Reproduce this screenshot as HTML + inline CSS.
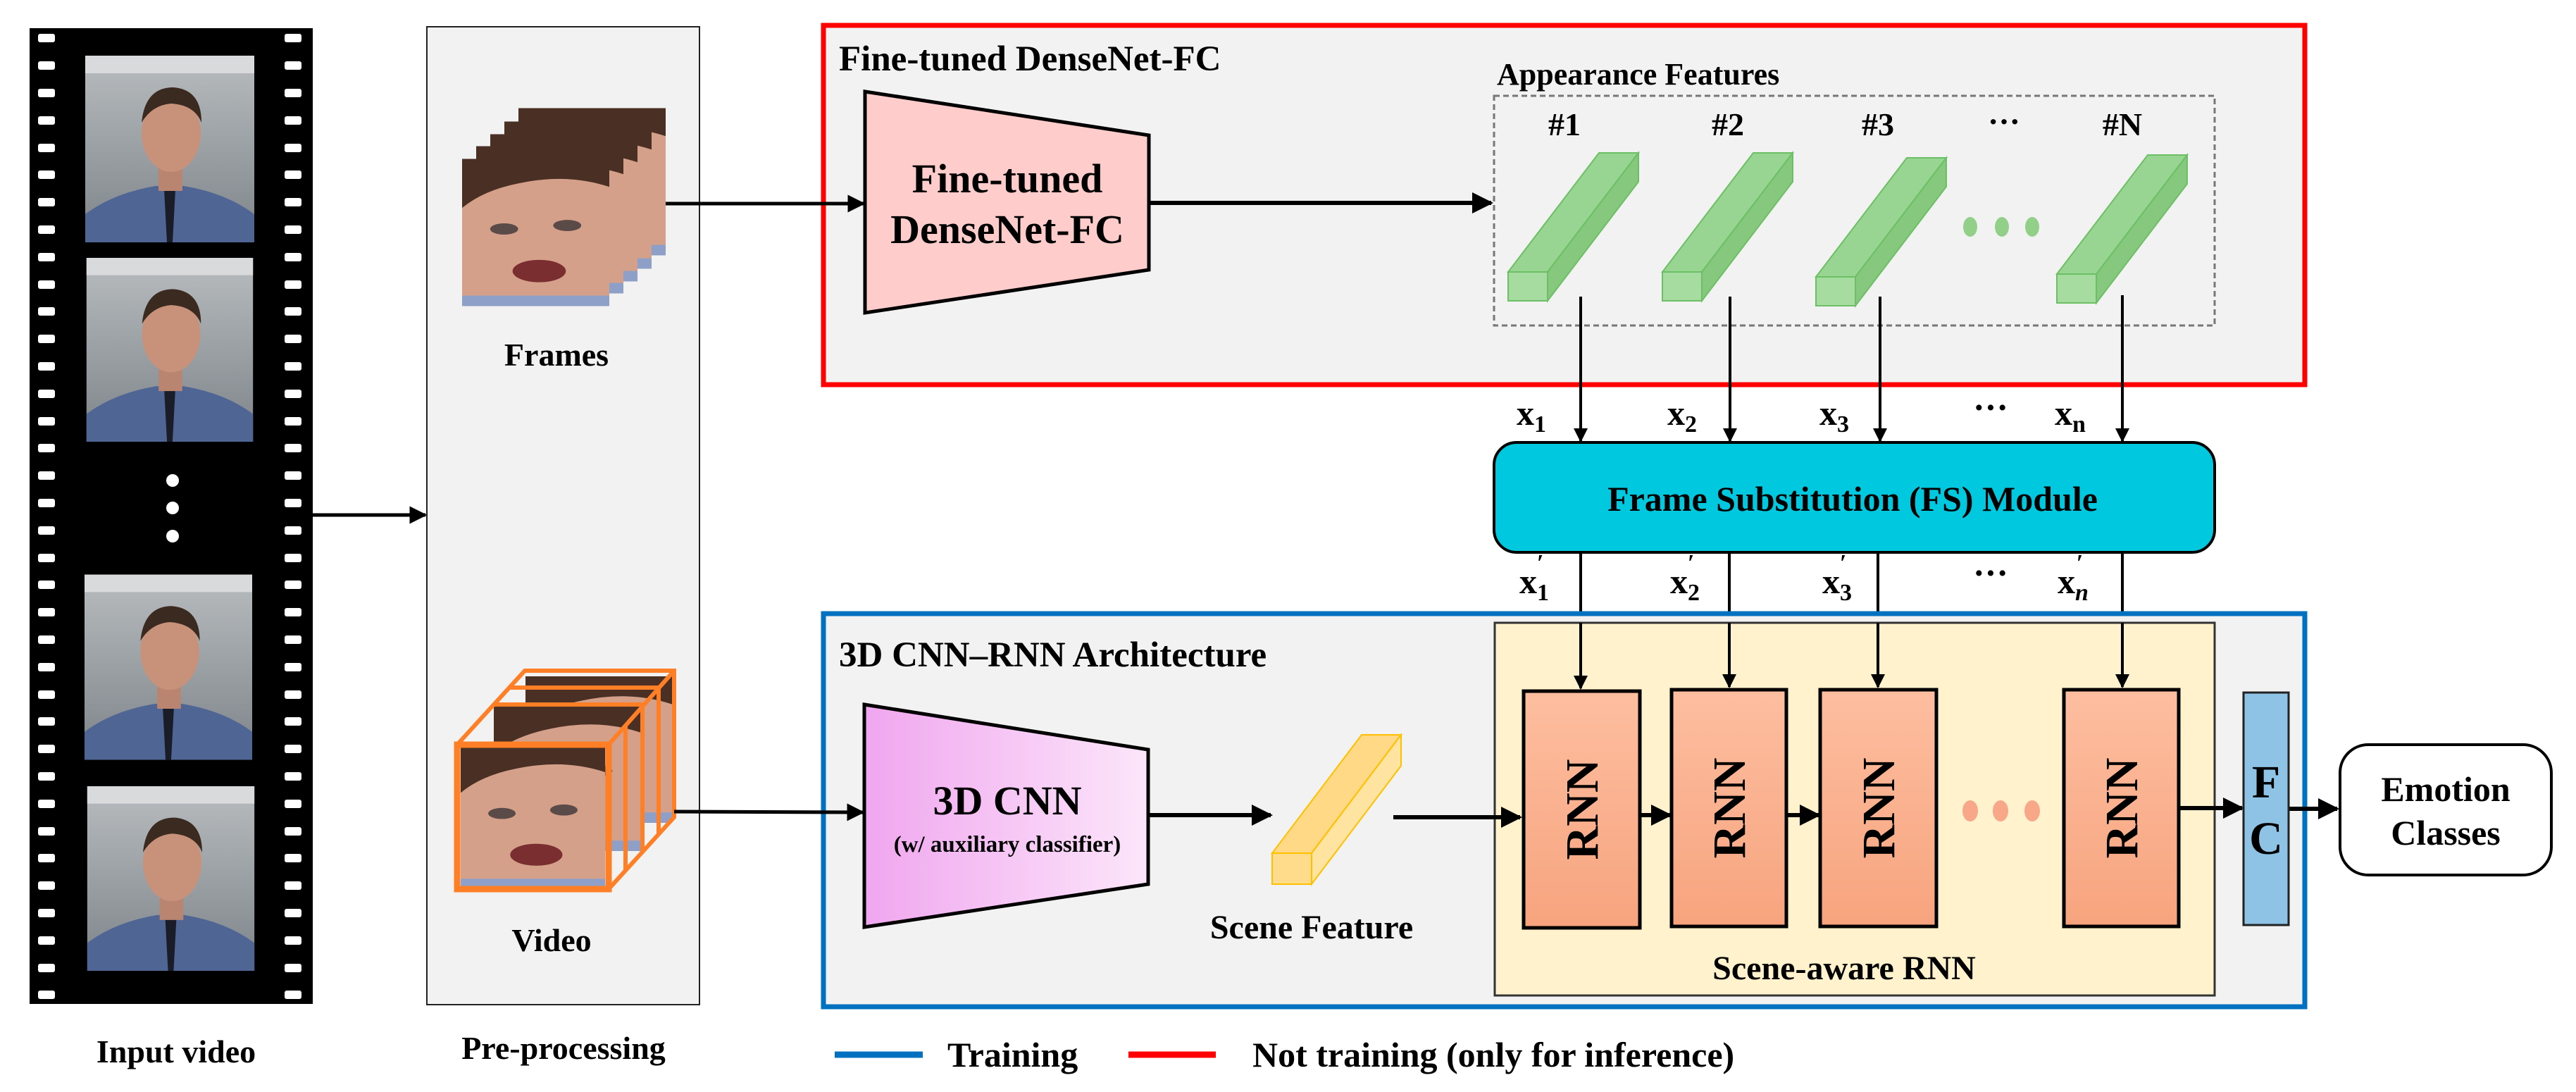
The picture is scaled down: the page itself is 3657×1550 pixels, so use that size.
<!DOCTYPE html>
<html><head><meta charset="utf-8"><style>
html,body{margin:0;padding:0;background:#fff;}
svg{display:block;}
text{font-family:"Liberation Serif",serif;font-weight:bold;fill:#000;}
</style></head><body>
<svg width="3657" height="1550" viewBox="0 0 3657 1550" xmlns="http://www.w3.org/2000/svg">
<defs>
<marker id="ah" viewBox="0 0 10 10" refX="9" refY="5" markerWidth="5" markerHeight="5" orient="auto" markerUnits="strokeWidth"><path d="M0,0 L10,5 L0,10 z" fill="#000"/></marker>
<linearGradient id="rnn" x1="0" y1="0" x2="0" y2="1"><stop offset="0" stop-color="#fdbea0"/><stop offset="1" stop-color="#f7a47e"/></linearGradient>
<linearGradient id="pur" x1="0" y1="0" x2="1" y2="0"><stop offset="0" stop-color="#f0a6ef"/><stop offset="1" stop-color="#fce6fa"/></linearGradient>
<linearGradient id="bg" x1="0" y1="0" x2="0" y2="1"><stop offset="0" stop-color="#b8bcbf"/><stop offset="1" stop-color="#7d8489"/></linearGradient>
<symbol id="ff" viewBox="0 0 240 265">
<rect width="240" height="265" fill="url(#bg)"/>
<rect x="0" y="0" width="240" height="25" fill="#d8dadb"/>
<path d="M0,265 L0,225 Q40,195 100,185 L140,185 Q200,195 240,225 L240,265 Z" fill="#4f6593"/>
<path d="M112,190 L128,190 L124,265 L116,265 Z" fill="#1a1d28"/>
<rect x="104" y="150" width="34" height="42" fill="#b98570"/>
<ellipse cx="122" cy="110" rx="42" ry="55" fill="#c8927a"/>
<path d="M80,95 Q85,45 125,45 Q165,48 165,95 Q155,70 122,68 Q95,70 80,95 Z" fill="#3b2a20"/>
</symbol>
<symbol id="fc" viewBox="0 0 210 210">
<rect width="210" height="210" fill="#d4a08a"/>
<path d="M0,0 L210,0 L210,40 Q150,20 80,35 Q30,45 0,70 Z" fill="#4a3024"/>
<ellipse cx="60" cy="100" rx="20" ry="8" fill="#5a4a48"/>
<ellipse cx="150" cy="95" rx="20" ry="8" fill="#5a4a48"/>
<ellipse cx="110" cy="160" rx="38" ry="16" fill="#7a2e30"/>
<rect x="0" y="195" width="210" height="15" fill="#8ea0c8"/>
</symbol>
</defs>

<!-- film strip -->
<rect x="42" y="40" width="402" height="1385" fill="#000"/>
<g fill="#fff">
<rect x="54" y="48" width="24" height="12" rx="3"/><rect x="404" y="48" width="24" height="12" rx="3"/>
</g>
<g id="holes" fill="#fff"></g>
<use href="#ff" x="120" y="79" width="242" height="265"/>
<use href="#ff" x="120" y="366" width="242" height="261"/>
<use href="#ff" x="120" y="812" width="238" height="270"/>
<use href="#ff" x="123" y="1116" width="239" height="262"/>
<circle cx="245" cy="682" r="9" fill="#fff"/><circle cx="245" cy="721" r="9" fill="#fff"/><circle cx="245" cy="761" r="9" fill="#fff"/>
<line x1="444" y1="731" x2="604" y2="731" stroke="#000" stroke-width="5" marker-end="url(#ah)"/>

<!-- preprocessing -->
<rect x="606" y="38" width="387" height="1388" fill="#f2f2f2" stroke="#222" stroke-width="2"/>
<use href="#fc" x="736" y="153" width="209" height="210"/>
<use href="#fc" x="716" y="172" width="209" height="210"/>
<use href="#fc" x="696" y="190" width="209" height="210"/>
<use href="#fc" x="676" y="207" width="209" height="210"/>
<use href="#fc" x="656" y="225" width="209" height="210"/>
<text x="790" y="519" font-size="46" text-anchor="middle">Frames</text>
<!-- video cube -->
<use href="#fc" x="745" y="960" width="210" height="208"/>
<use href="#fc" x="700" y="1000" width="210" height="208"/>
<use href="#fc" x="649" y="1057" width="215" height="205"/>
<g fill="none" stroke="#ff7f27" stroke-width="6">
<rect x="649" y="1057" width="215" height="205" stroke-width="9"/>
<polyline points="649,1057 745,952 957,952 957,1160 864,1262"/>
<line x1="864" y1="1057" x2="957" y2="952"/>
<line x1="700" y1="1000" x2="912" y2="1000"/><line x1="912" y1="1000" x2="912" y2="1208"/>
<line x1="725" y1="976" x2="935" y2="976"/><line x1="935" y1="976" x2="935" y2="1185"/>
<line x1="888" y1="1030" x2="888" y2="1235"/>
</g>
<text x="783" y="1350" font-size="46" text-anchor="middle">Video</text>
<text x="250" y="1508" font-size="46" text-anchor="middle">Input video</text>
<text x="800" y="1503" font-size="46" text-anchor="middle">Pre-processing</text>

<!-- red box -->
<rect x="1169" y="36" width="2103" height="510" fill="#f2f2f2" stroke="#ff0000" stroke-width="7"/>
<text x="1191" y="100" font-size="51">Fine-tuned DenseNet-FC</text>
<line x1="945" y1="289" x2="1226" y2="289" stroke="#000" stroke-width="5" marker-end="url(#ah)"/>
<polygon points="1228,130 1631,192 1631,383 1228,444" fill="#ffcccc" stroke="#000" stroke-width="5"/>
<text x="1430" y="273" font-size="58" text-anchor="middle">Fine-tuned</text>
<text x="1430" y="345" font-size="58" text-anchor="middle">DenseNet-FC</text>
<line x1="1631" y1="288" x2="2117" y2="288" stroke="#000" stroke-width="6" marker-end="url(#ah)"/>
<text x="2125" y="120" font-size="44">Appearance Features</text>
<rect x="2121" y="136" width="1023" height="326" fill="none" stroke="#777" stroke-width="3" stroke-dasharray="8,5"/>
<g font-size="46" text-anchor="middle">
<text x="2221" y="192">#1</text><text x="2453" y="192">#2</text><text x="2666" y="192">#3</text><text x="2845" y="188">···</text><text x="3013" y="192">#N</text>
</g>
<g stroke="#6cbf64" stroke-width="2">
<g transform="translate(2141,0)"><polygon points="0,386 56,386 185,217 129,217" fill="#98d592"/><polygon points="56,386 56,427 185,258 185,217" fill="#86c97e"/><rect x="0" y="386" width="56" height="41" fill="#a6dca0"/></g>
<g transform="translate(2360,0)"><polygon points="0,386 56,386 185,217 129,217" fill="#98d592"/><polygon points="56,386 56,427 185,258 185,217" fill="#86c97e"/><rect x="0" y="386" width="56" height="41" fill="#a6dca0"/></g>
<g transform="translate(2578,7)"><polygon points="0,386 56,386 185,217 129,217" fill="#98d592"/><polygon points="56,386 56,427 185,258 185,217" fill="#86c97e"/><rect x="0" y="386" width="56" height="41" fill="#a6dca0"/></g>
<g transform="translate(2920,3)"><polygon points="0,386 56,386 185,217 129,217" fill="#98d592"/><polygon points="56,386 56,427 185,258 185,217" fill="#86c97e"/><rect x="0" y="386" width="56" height="41" fill="#a6dca0"/></g>
</g>
<g fill="#92d08a"><ellipse cx="2797" cy="322" rx="10" ry="14"/><ellipse cx="2842" cy="322" rx="10" ry="14"/><ellipse cx="2885" cy="322" rx="10" ry="14"/></g>
<g stroke="#000" stroke-width="4" marker-end="url(#ah)">
<line x1="2244" y1="421" x2="2244" y2="626"/><line x1="2456" y1="421" x2="2456" y2="626"/><line x1="2669" y1="421" x2="2669" y2="626"/><line x1="3013" y1="419" x2="3013" y2="626"/>
</g>
<g font-size="50">
<text x="2153" y="603">x<tspan font-size="34" dy="10">1</tspan></text>
<text x="2367" y="603">x<tspan font-size="34" dy="10">2</tspan></text>
<text x="2583" y="603">x<tspan font-size="34" dy="10">3</tspan></text>
<text x="2801" y="595">···</text>
<text x="2917" y="603">x<tspan font-size="34" dy="10">n</tspan></text>
</g>
<rect x="2121" y="628" width="1023" height="156" rx="32" fill="#00c8de" stroke="#000" stroke-width="4"/>
<text x="2630" y="725" font-size="50" text-anchor="middle">Frame Substitution (FS) Module</text>
<g stroke="#000" stroke-width="4" marker-end="url(#ah)">
<line x1="2244" y1="784" x2="2244" y2="977"/><line x1="2455" y1="784" x2="2455" y2="975"/><line x1="2666" y1="784" x2="2666" y2="975"/><line x1="3013" y1="784" x2="3013" y2="975"/>
</g>
<g font-size="50">
<text x="2157" y="842">x<tspan font-size="34" dy="10">1</tspan><tspan font-size="34" dx="-17" dy="-42">′</tspan></text>
<text x="2371" y="842">x<tspan font-size="34" dy="10">2</tspan><tspan font-size="34" dx="-17" dy="-42">′</tspan></text>
<text x="2587" y="842">x<tspan font-size="34" dy="10">3</tspan><tspan font-size="34" dx="-17" dy="-42">′</tspan></text>
<text x="2801" y="830">···</text>
<text x="2921" y="842">x<tspan font-size="34" dy="10" font-style="italic">n</tspan><tspan font-size="34" dx="-17" dy="-42">′</tspan></text>
</g>

<!-- blue box -->
<rect x="1169" y="871" width="2103" height="558" fill="#f2f2f2" stroke="#0070c0" stroke-width="7"/>
<text x="1191" y="946" font-size="51">3D CNN–RNN Architecture</text>
<rect x="2122" y="884" width="1022" height="529" fill="#fff2cc" stroke="#333" stroke-width="3"/>
<line x1="2244" y1="884" x2="2244" y2="977" stroke="#000" stroke-width="4" marker-end="url(#ah)"/>
<line x1="2455" y1="884" x2="2455" y2="975" stroke="#000" stroke-width="4" marker-end="url(#ah)"/>
<line x1="2666" y1="884" x2="2666" y2="975" stroke="#000" stroke-width="4" marker-end="url(#ah)"/>
<line x1="3013" y1="884" x2="3013" y2="975" stroke="#000" stroke-width="4" marker-end="url(#ah)"/>
<line x1="957" y1="1152" x2="1225" y2="1153" stroke="#000" stroke-width="5" marker-end="url(#ah)"/>
<polygon points="1227,1000 1630,1064 1630,1255 1227,1316" fill="url(#pur)" stroke="#000" stroke-width="5"/>
<text x="1430" y="1156" font-size="58" text-anchor="middle">3D CNN</text>
<text x="1430" y="1209" font-size="33" text-anchor="middle">(w/ auxiliary classifier)</text>
<line x1="1630" y1="1157" x2="1804" y2="1157" stroke="#000" stroke-width="6" marker-end="url(#ah)"/>
<g stroke="#ffc000" stroke-width="2">
<polygon points="1806,1211 1862,1211 1989,1043 1933,1043" fill="#ffd985"/>
<polygon points="1862,1211 1862,1255 1989,1087 1989,1043" fill="#ffe3a0"/>
<rect x="1806" y="1211" width="56" height="44" fill="#ffdc8c"/>
</g>
<text x="1862" y="1332" font-size="48" text-anchor="middle">Scene Feature</text>
<line x1="1978" y1="1160" x2="2158" y2="1160" stroke="#000" stroke-width="6" marker-end="url(#ah)"/>
<g stroke="#000" stroke-width="5" fill="url(#rnn)">
<rect x="2163" y="981" width="165" height="336"/>
<rect x="2373" y="979" width="163" height="336"/>
<rect x="2584" y="979" width="165" height="336"/>
<rect x="2930" y="979" width="163" height="336"/>
</g>
<g font-size="66" text-anchor="middle">
<text transform="translate(2268,1149) rotate(-90)">RNN</text>
<text transform="translate(2477,1147) rotate(-90)">RNN</text>
<text transform="translate(2689,1147) rotate(-90)">RNN</text>
<text transform="translate(3034,1147) rotate(-90)">RNN</text>
</g>
<g stroke="#000" stroke-width="6" marker-end="url(#ah)">
<line x1="2328" y1="1157" x2="2371" y2="1157"/><line x1="2536" y1="1157" x2="2582" y2="1157"/>
<line x1="3093" y1="1147" x2="3183" y2="1147"/><line x1="3249" y1="1148" x2="3318" y2="1148"/>
</g>
<g fill="#f8a888"><ellipse cx="2797" cy="1151" rx="11" ry="15"/><ellipse cx="2840" cy="1151" rx="11" ry="15"/><ellipse cx="2885" cy="1151" rx="11" ry="15"/></g>
<rect x="3185" y="983" width="64" height="330" fill="#8fc3e6" stroke="#222" stroke-width="3"/>
<text x="3217" y="1132" font-size="66" text-anchor="middle">F</text>
<text x="3217" y="1212" font-size="66" text-anchor="middle">C</text>
<text x="2618" y="1390" font-size="48" text-anchor="middle">Scene-aware RNN</text>
<rect x="3322" y="1057" width="300" height="185" rx="40" fill="#fff" stroke="#000" stroke-width="4"/>
<text x="3472" y="1137" font-size="50" text-anchor="middle">Emotion</text>
<text x="3472" y="1199" font-size="50" text-anchor="middle">Classes</text>

<!-- legend -->
<line x1="1185" y1="1497" x2="1310" y2="1497" stroke="#0070c0" stroke-width="9"/>
<text x="1345" y="1514" font-size="50">Training</text>
<line x1="1602" y1="1497" x2="1726" y2="1497" stroke="#ff0000" stroke-width="9"/>
<text x="1778" y="1514" font-size="50">Not training (only for inference)</text>

<g fill="#fff">
<rect x="54" y="87" width="24" height="12" rx="3"/><rect x="404" y="87" width="24" height="12" rx="3"/>
<rect x="54" y="126" width="24" height="12" rx="3"/><rect x="404" y="126" width="24" height="12" rx="3"/>
<rect x="54" y="165" width="24" height="12" rx="3"/><rect x="404" y="165" width="24" height="12" rx="3"/>
<rect x="54" y="204" width="24" height="12" rx="3"/><rect x="404" y="204" width="24" height="12" rx="3"/>
<rect x="54" y="242" width="24" height="12" rx="3"/><rect x="404" y="242" width="24" height="12" rx="3"/>
<rect x="54" y="281" width="24" height="12" rx="3"/><rect x="404" y="281" width="24" height="12" rx="3"/>
<rect x="54" y="320" width="24" height="12" rx="3"/><rect x="404" y="320" width="24" height="12" rx="3"/>
<rect x="54" y="359" width="24" height="12" rx="3"/><rect x="404" y="359" width="24" height="12" rx="3"/>
<rect x="54" y="398" width="24" height="12" rx="3"/><rect x="404" y="398" width="24" height="12" rx="3"/>
<rect x="54" y="436" width="24" height="12" rx="3"/><rect x="404" y="436" width="24" height="12" rx="3"/>
<rect x="54" y="475" width="24" height="12" rx="3"/><rect x="404" y="475" width="24" height="12" rx="3"/>
<rect x="54" y="514" width="24" height="12" rx="3"/><rect x="404" y="514" width="24" height="12" rx="3"/>
<rect x="54" y="553" width="24" height="12" rx="3"/><rect x="404" y="553" width="24" height="12" rx="3"/>
<rect x="54" y="592" width="24" height="12" rx="3"/><rect x="404" y="592" width="24" height="12" rx="3"/>
<rect x="54" y="630" width="24" height="12" rx="3"/><rect x="404" y="630" width="24" height="12" rx="3"/>
<rect x="54" y="669" width="24" height="12" rx="3"/><rect x="404" y="669" width="24" height="12" rx="3"/>
<rect x="54" y="708" width="24" height="12" rx="3"/><rect x="404" y="708" width="24" height="12" rx="3"/>
<rect x="54" y="747" width="24" height="12" rx="3"/><rect x="404" y="747" width="24" height="12" rx="3"/>
<rect x="54" y="786" width="24" height="12" rx="3"/><rect x="404" y="786" width="24" height="12" rx="3"/>
<rect x="54" y="824" width="24" height="12" rx="3"/><rect x="404" y="824" width="24" height="12" rx="3"/>
<rect x="54" y="863" width="24" height="12" rx="3"/><rect x="404" y="863" width="24" height="12" rx="3"/>
<rect x="54" y="902" width="24" height="12" rx="3"/><rect x="404" y="902" width="24" height="12" rx="3"/>
<rect x="54" y="941" width="24" height="12" rx="3"/><rect x="404" y="941" width="24" height="12" rx="3"/>
<rect x="54" y="980" width="24" height="12" rx="3"/><rect x="404" y="980" width="24" height="12" rx="3"/>
<rect x="54" y="1018" width="24" height="12" rx="3"/><rect x="404" y="1018" width="24" height="12" rx="3"/>
<rect x="54" y="1057" width="24" height="12" rx="3"/><rect x="404" y="1057" width="24" height="12" rx="3"/>
<rect x="54" y="1096" width="24" height="12" rx="3"/><rect x="404" y="1096" width="24" height="12" rx="3"/>
<rect x="54" y="1135" width="24" height="12" rx="3"/><rect x="404" y="1135" width="24" height="12" rx="3"/>
<rect x="54" y="1174" width="24" height="12" rx="3"/><rect x="404" y="1174" width="24" height="12" rx="3"/>
<rect x="54" y="1212" width="24" height="12" rx="3"/><rect x="404" y="1212" width="24" height="12" rx="3"/>
<rect x="54" y="1251" width="24" height="12" rx="3"/><rect x="404" y="1251" width="24" height="12" rx="3"/>
<rect x="54" y="1290" width="24" height="12" rx="3"/><rect x="404" y="1290" width="24" height="12" rx="3"/>
<rect x="54" y="1329" width="24" height="12" rx="3"/><rect x="404" y="1329" width="24" height="12" rx="3"/>
<rect x="54" y="1368" width="24" height="12" rx="3"/><rect x="404" y="1368" width="24" height="12" rx="3"/>
<rect x="54" y="1406" width="24" height="12" rx="3"/><rect x="404" y="1406" width="24" height="12" rx="3"/>
</g>
</svg>
</body></html>
